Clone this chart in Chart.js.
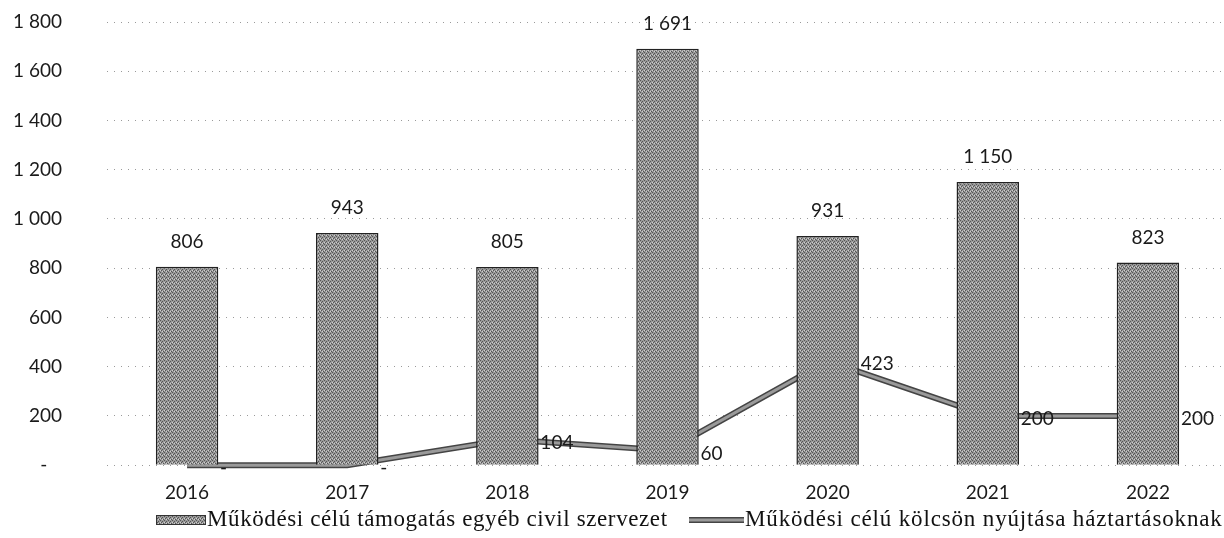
<!DOCTYPE html>
<html>
<head>
<meta charset="utf-8">
<script src="https://cdn.jsdelivr.net/npm/chart.js@4"></script>
<style>
    html, body { margin: 0; padding: 0; background: #fff; overflow: hidden; }
    #wrap { width: 1232px; height: 538px; }
</style>
</head>
<body>
<div id="wrap"><canvas id="chart" width="1232" height="538"></canvas></div>
<script>
const years = ['2016', '2017', '2018', '2019', '2020', '2021', '2022'];
const supportValues = [806, 943, 805, 1691, 931, 1150, 823];
const loanValues = [0, 0, 104, 60, 423, 200, 200];
const yTicks = [0, 200, 400, 600, 800, 1000, 1200, 1400, 1600, 1800];
const seriesNames = [
    'Működési célú támogatás egyéb civil szervezet',
    'Működési célú kölcsön nyújtása háztartásoknak'
];

// thousands with a space, zero shown as a dash
function fmt(v) {
    if (v === 0) return '-';
    return String(v).replace(/\B(?=(\d{3})+(?!\d))/g, ' ');
}

// grey stipple similar to the scanned bar fill
function makePattern() {
    const c = document.createElement('canvas');
    c.width = 4; c.height = 4;
    const g = c.getContext('2d');
    g.fillStyle = '#999';
    g.fillRect(0, 0, 4, 4);
    g.fillStyle = '#555';
    g.fillRect(0, 0, 1, 1); g.fillRect(2, 1, 1, 1); g.fillRect(1, 2, 1, 1); g.fillRect(3, 3, 1, 1);
    g.fillStyle = '#cfcfcf';
    g.fillRect(2, 3, 1, 1); g.fillRect(0, 2, 1, 1);
    return g.createPattern(c, 'repeat');
}

const ctx = document.getElementById('chart').getContext('2d');
const barFill = makePattern();

// inner grey stroke for the line, value labels and the legend
const decorations = {
    id: 'decorations',
    afterDatasetDraw(chart, args) {
        if (args.index !== 1) return;
        const pts = args.meta.data;
        const c = chart.ctx;
        c.save();
        c.beginPath();
        pts.forEach(function (p, i) {
            if (i === 0) c.moveTo(p.x, p.y); else c.lineTo(p.x, p.y);
        });
        c.strokeStyle = '#9a9a9a';
        c.lineWidth = 3;
        c.lineJoin = 'round';
        c.stroke();
        c.restore();
    },
    afterDraw(chart) {
        const c = chart.ctx;
        c.save();
        c.fillStyle = '#1a1a1a';
        c.font = '19px Lato';
        // bar labels
        c.textAlign = 'center';
        c.textBaseline = 'middle';
        chart.getDatasetMeta(0).data.forEach(function (bar, i) {
            c.fillText(fmt(supportValues[i]), bar.x, bar.y - 25);
        });
        // line labels, right of the point
        c.textAlign = 'left';
        chart.getDatasetMeta(1).data.forEach(function (p, i) {
            c.fillText(fmt(loanValues[i]), p.x + 33, p.y + 3);
        });

        // legend
        const ly = 520;
        c.fillStyle = barFill;
        c.fillRect(156, ly - 5, 50, 10);
        c.strokeStyle = '#333';
        c.lineWidth = 1;
        c.strokeRect(156.5, ly - 4.5, 49, 9);

        c.beginPath();
        c.moveTo(689, ly);
        c.lineTo(744, ly);
        c.strokeStyle = '#444';
        c.lineWidth = 6;
        c.stroke();
        c.strokeStyle = '#9a9a9a';
        c.lineWidth = 3;
        c.stroke();

        c.fillStyle = '#111';
        c.font = '23px "Liberation Serif"';
        c.letterSpacing = '0.6px';
        c.textBaseline = 'middle';
        c.fillText(seriesNames[0], 207, ly);
        c.letterSpacing = '0.85px';
        c.fillText(seriesNames[1], 745, ly);
        c.restore();
    }
};

new Chart(ctx, {
    data: {
        labels: years,
        datasets: [{
            type: 'bar',
            label: seriesNames[0],
            data: supportValues,
            backgroundColor: barFill,
            borderColor: '#222',
            borderWidth: 1.5,
            categoryPercentage: 1,
            barPercentage: 0.39,
            order: 0
        }, {
            type: 'line',
            label: seriesNames[1],
            data: loanValues,
            borderColor: '#444',
            borderWidth: 6,
            pointRadius: 0,
            tension: 0,
            clip: false,
            order: 1
        }]
    },
    plugins: [decorations],
    options: {
        responsive: false,
        animation: false,
        events: [],
        layout: { autoPadding: false, padding: { top: 22, right: 4, bottom: 18, left: 0 } },
        plugins: {
            legend: { display: false },
            tooltip: { enabled: false }
        },
        scales: {
            x: {
                grid: { display: false, drawTicks: false },
                border: { display: false },
                ticks: {
                    color: '#1a1a1a',
                    font: { family: 'Lato', size: 19 },
                    padding: 16
                }
            },
            y: {
                min: 0,
                max: 1800,
                afterFit: function (scale) {
                    scale.width = 107;
                    // tick padding is only meant to push labels sideways
                    scale.paddingTop = 11;
                    scale.paddingBottom = 11;
                },
                afterBuildTicks: function (scale) {
                    scale.ticks = yTicks.map(function (v) { return { value: v }; });
                },
                grid: {
                    color: '#9a9a9a',
                    lineWidth: 1,
                    drawTicks: false
                },
                border: { display: false, dash: [1, 6] },
                ticks: {
                    color: '#1a1a1a',
                    font: { family: 'Lato', size: 19 },
                    padding: 45,
                    callback: function (v) { return v === 0 ? '-   ' : fmt(v); }
                }
            }
        }
    }
});
</script>
</body>
</html>
